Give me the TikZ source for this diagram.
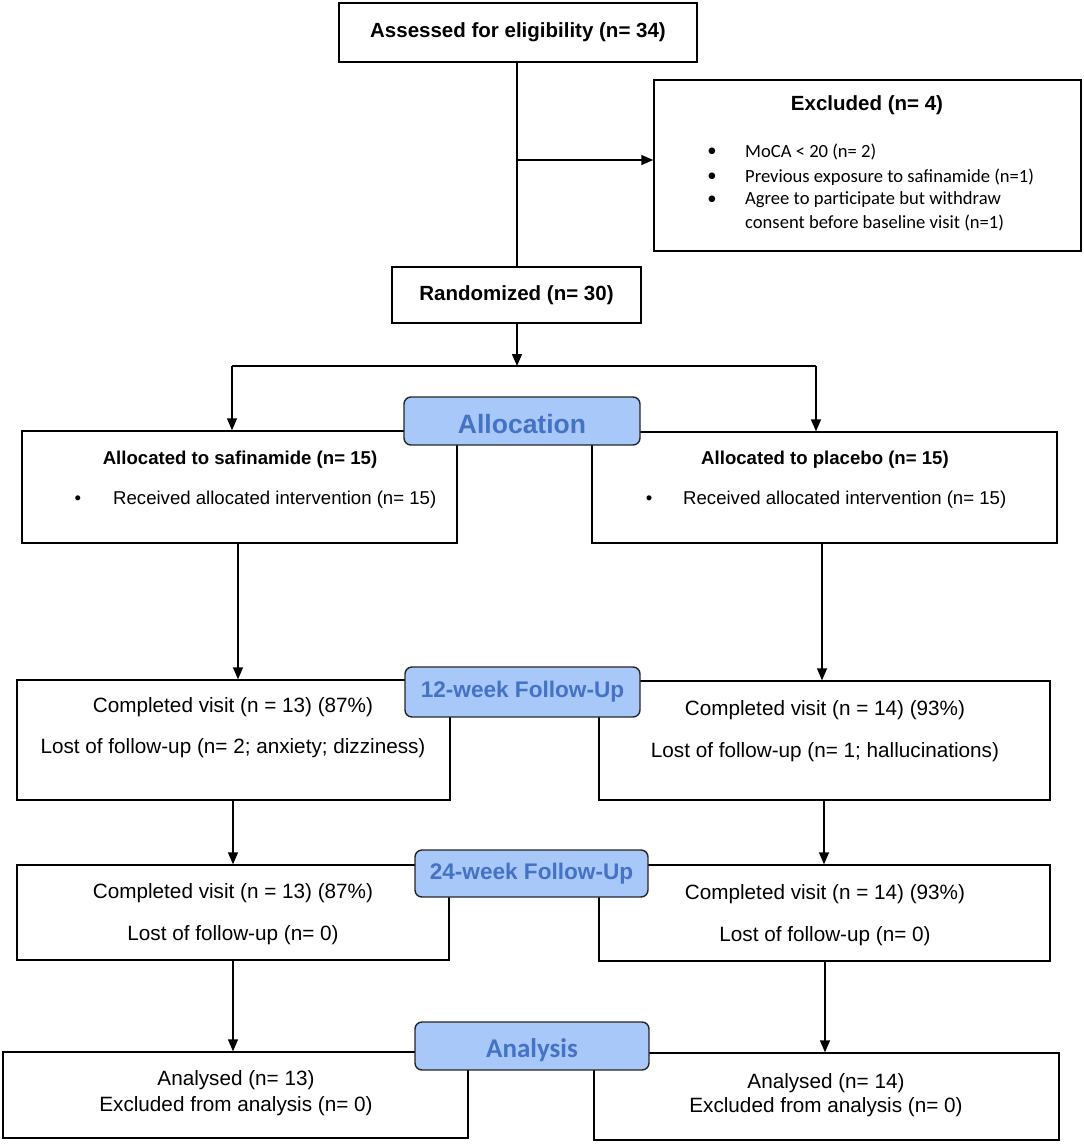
\documentclass[tikz,border=0pt]{standalone}
\usepackage{fontspec}
\setmainfont{Liberation Sans}
\newfontfamily\calib{Carlito}
\usetikzlibrary{arrows.meta}
\definecolor{lblfill}{RGB}{168,200,250}
\definecolor{lbltext}{RGB}{68,114,196}
\begin{document}
\begin{tikzpicture}[x=1pt,y=-1pt,
  box/.style={draw, line width=1.4pt, inner sep=0pt},
  lbl/.style={draw=black!85, fill=lblfill, rounded corners=7pt, line width=1.4pt, inner sep=0pt},
  lbltxt/.style={text=lbltext, inner sep=0pt},
  lblfont/.style={font=\bfseries\fontsize{22.6}{26}\selectfont},
  arr/.style={line width=1.4pt, -{Triangle[length=12pt,width=10pt]}},
  ln/.style={line width=1.4pt},
  tb/.style={font=\bfseries\fontsize{20.5}{24}\selectfont, inner sep=0pt},
  ab/.style={font=\bfseries\fontsize{18.6}{22}\selectfont, inner sep=0pt},
  ar/.style={font=\fontsize{18.6}{22}\selectfont, inner sep=0pt},
  rg/.style={font=\fontsize{20.7}{24}\selectfont, inner sep=0pt},
  ex/.style={font=\calib\fontsize{18.6}{22}\selectfont, inner sep=0pt}
]
\useasboundingbox[fill=white] (0,0) rectangle (1084,1144);

% boxes
\node[box, minimum width=358pt, minimum height=59pt, tb] (assess) at (518,32.5) {Assessed for eligibility (n= 34)};
\node[box, minimum width=427pt, minimum height=171pt] (excl) at (867.5,165.5) {};
\node[box, minimum width=249pt, minimum height=56pt, tb] (rand) at (516.5,295) {Randomized (n= 30)};
\node[box, minimum width=435pt, minimum height=112pt] (allocL) at (239.5,487) {};
\node[box, minimum width=465pt, minimum height=111pt] (allocR) at (824.5,487.5) {};
\node[box, minimum width=433pt, minimum height=120pt] (fuaL) at (233.5,740) {};
\node[box, minimum width=451pt, minimum height=119pt] (fuaR) at (824.5,740.5) {};
\node[box, minimum width=432pt, minimum height=95pt] (fubL) at (233,912.5) {};
\node[box, minimum width=451pt, minimum height=96pt] (fubR) at (824.5,913) {};
\node[box, minimum width=465pt, minimum height=86pt] (anL) at (235.5,1095) {};
\node[box, minimum width=465pt, minimum height=87pt] (anR) at (826.5,1096.5) {};

% labels
\node[lbl, minimum width=236pt, minimum height=48pt] (lalloc) at (522,421) {};
\node[lbltxt, font=\bfseries\fontsize{26.5}{30}\selectfont] (talloc) at (522,424) {Allocation};
\node[lbl, minimum width=235pt, minimum height=50pt] (lfua) at (522.5,692) {};
\node[lbltxt, lblfont] (tfua) at (522.5,692) {12-week Follow-Up};
\node[lbl, minimum width=233pt, minimum height=47pt] (lfub) at (531.5,873.5) {};
\node[lbltxt, lblfont] (tfub) at (531.5,873.5) {24-week Follow-Up};
\node[lbl, minimum width=234pt, minimum height=48pt] (lan) at (532,1046) {};
\node[lbltxt, font=\calib\bfseries\fontsize{27}{30}\selectfont] (tan) at (532,1050) {Analysis};

% texts in excluded
\node[tb] (extitle) at (867,105) {Excluded (n= 4)};
\node[ex] (eb1) at (712,152) {•};
\node[ex] (eb2) at (712,177) {•};
\node[ex] (eb3) at (712,200) {•};
\node[ex, anchor=west] (et1) at (745,152) {MoCA < 20 (n= 2)};
\node[ex, anchor=west] (et2) at (745,177) {Previous exposure to safinamide (n=1)};
\node[ex, anchor=west] (et3) at (745,200) {Agree to participate but withdraw};
\node[ex, anchor=west] (et4) at (745,223) {consent before baseline visit (n=1)};

% allocation texts
\node[ab] (altitle) at (240,460) {Allocated to safinamide (n= 15)};
\node[ar] (alb) at (78,500) {•};
\node[ar, anchor=west] (alt) at (113,500) {Received allocated intervention (n= 15)};
\node[ab] (artitle) at (825,460) {Allocated to placebo (n= 15)};
\node[ar] (arb) at (649,500) {•};
\node[ar, anchor=west] (art) at (683,500) {Received allocated intervention (n= 15)};

% 12-week texts
\node[rg] (fual1) at (233,707) {Completed visit (n = 13) (87\%)};
\node[rg] (fual2) at (233,748) {Lost of follow-up (n= 2; anxiety; dizziness)};
\node[rg] (fuar1) at (825,710) {Completed visit (n = 14) (93\%)};
\node[rg] (fuar2) at (825,752) {Lost of follow-up (n= 1; hallucinations)};

% 24-week texts
\node[rg] (fubl1) at (233,893) {Completed visit (n = 13) (87\%)};
\node[rg] (fubl2) at (233,935) {Lost of follow-up (n= 0)};
\node[rg] (fubr1) at (825,894) {Completed visit (n = 14) (93\%)};
\node[rg] (fubr2) at (825,936) {Lost of follow-up (n= 0)};

% analysis texts
\node[rg] (anl1) at (236,1080) {Analysed (n= 13)};
\node[rg] (anl2) at (236,1106) {Excluded from analysis (n= 0)};
\node[rg] (anr1) at (826,1083) {Analysed (n= 14)};
\node[rg] (anr2) at (826,1107) {Excluded from analysis (n= 0)};

% connectors
\coordinate (c0) at (517,0);
\coordinate (br) at (517,160);
\coordinate (split) at (517,366);
\coordinate (sL) at (232,366);
\coordinate (sR) at (816,366);
\coordinate (cA) at (238,0);
\coordinate (cB) at (822,0);
\coordinate (cC) at (233,0);
\coordinate (cD) at (824,0);
\coordinate (cE) at (825,0);

\draw[ln] (assess.south -| c0) -- (rand.north -| c0);
\draw[arr] (br) -- (br -| excl.west);
\draw[arr] (rand.south -| c0) -- (split);
\draw[ln] (sL) -- (sR);
\draw[arr] (sL) -- (sL |- allocL.north);
\draw[arr] (sR) -- (sR |- allocR.north);
\draw[arr] (allocL.south -| cA) -- (fuaL.north -| cA);
\draw[arr] (allocR.south -| cB) -- (fuaR.north -| cB);
\draw[arr] (fuaL.south -| cC) -- (fubL.north -| cC);
\draw[arr] (fuaR.south -| cD) -- (fubR.north -| cD);
\draw[arr] (fubL.south -| cC) -- (anL.north -| cC);
\draw[arr] (fubR.south -| cE) -- (anR.north -| cE);
\end{tikzpicture}
\end{document}
